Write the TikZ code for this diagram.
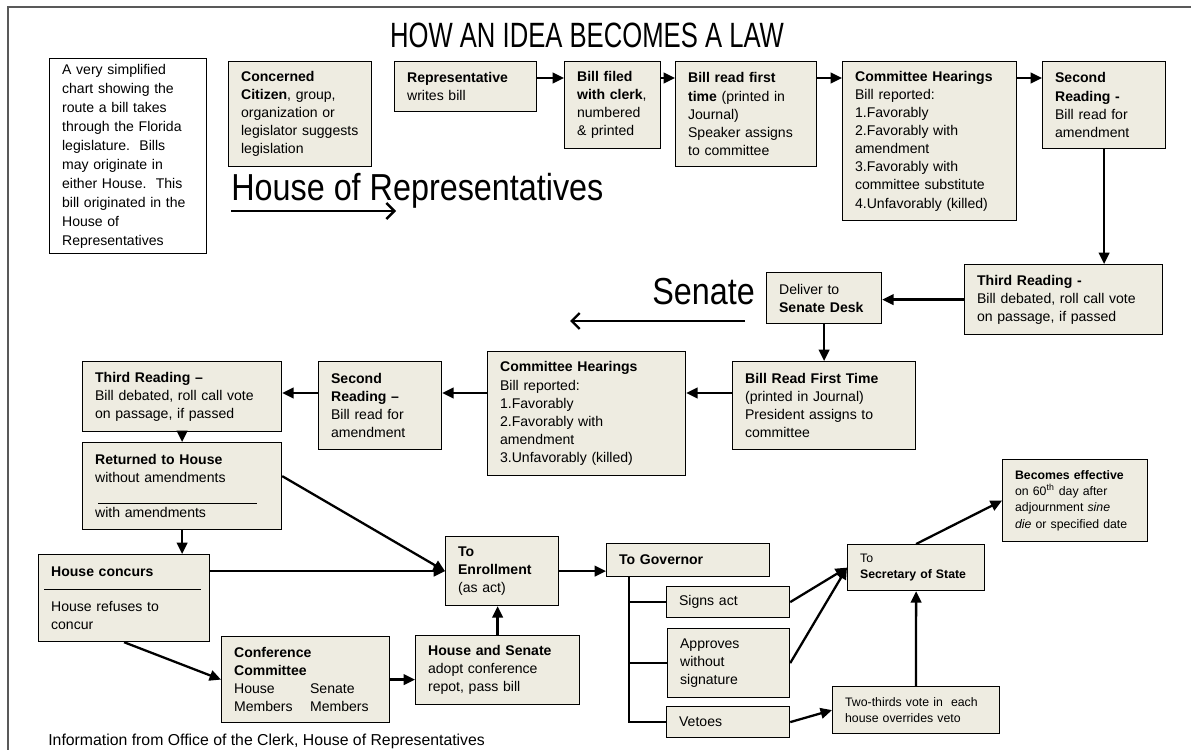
\documentclass[tikz,border=0pt]{standalone}
\usepackage{fontspec}
\usetikzlibrary{arrows.meta}
\setmainfont{Liberation Sans}
\newfontfamily\bigfont[FakeStretch=0.86]{Liberation Sans}
\newfontfamily\titlefont[FakeStretch=0.73]{Liberation Sans}
\definecolor{boxfill}{HTML}{EEECE1}
\begin{document}
\begin{tikzpicture}[x=0.02cm,y=-0.02cm,
  box/.style={draw,fill=boxfill,line width=0.7pt,anchor=north west,align=left,inner xsep=0.25cm,inner ysep=0.08cm,font=\fontsize{8}{10.3}\selectfont},
  small/.style={font=\fontsize{7}{9.2}\selectfont},
  link/.style={-{Triangle[length=6.5pt,width=6pt]},line width=1.3pt},
  way/.style={-{Straight Barb[length=4.5pt,width=9pt]},line width=1.4pt}]
\useasboundingbox(0,0)rectangle(1191,750);
\draw[black!65,line width=1pt](8,750)--(8,7)--(1191,7);
\node[anchor=base,font=\titlefont\fontsize{20}{24}\selectfont](title)at(587,48){HOW AN IDEA BECOMES A LAW};
\node[box,fill=white,text width=2.64cm,minimum height=3.9cm,font=\fontsize{8}{10.8}\selectfont](intro)at(49,58){A very simplified\\chart showing the\\route a bill takes\\through the Florida\\legislature.\ \ Bills\\may originate in\\either House.\ \ This\\bill originated in the\\House of\\Representatives};
\node[anchor=base west,inner sep=0,font=\bigfont\fontsize{21.4}{25}\selectfont](house)at(231,200){House of Representatives};
\node[anchor=base west,inner sep=0,font=\bigfont\fontsize{21.4}{25}\selectfont](senate)at(652,304){Senate};
\coordinate(hs)at(231,211);\coordinate(he)at(396,211);
\coordinate(ss)at(745,321);\coordinate(se)at(570,321);
\draw[way](hs)--(he);
\draw[way](ss)--(se);
% house
\node[box,text width=2.36cm,minimum height=2.1cm](citizen)at(228,61){\textbf{Concerned}\\\textbf{Citizen}, group,\\organization or\\legislator~suggests\\legislation};
\node[box,text width=2.34cm,minimum height=1cm](rep)at(394,61){\textbf{Representative}\\writes bill};
\node[box,text width=1.42cm,minimum height=1.74cm](filed)at(564,61){\textbf{Bill filed}\\\textbf{with~clerk},\\numbered\\\& printed};
\node[box,text width=2.32cm,minimum height=2.1cm](first)at(675,61){\textbf{Bill read first}\\\textbf{time} (printed in\\Journal)\\Speaker assigns\\to committee};
\node[box,text width=2.98cm,minimum height=3.18cm](hcomm)at(842,61){\textbf{Committee Hearings}\\Bill reported:\\1.Favorably\\2.Favorably with\\amendment\\3.Favorably with\\committee substitute\\4.Unfavorably (killed)};
\node[box,text width=1.96cm,minimum height=1.74cm](hsecond)at(1042,61){\textbf{Second}\\\textbf{Reading -}\\Bill read for\\amendment};
\node[box,text width=3.46cm,minimum height=1.4cm](hthird)at(964,264){\textbf{Third Reading -}\\Bill debated, roll call vote\\on passage, if passed};
\node[box,text width=1.8cm,minimum height=1.02cm](desk)at(766,272){Deliver to\\\textbf{Senate Desk}};
% senate
\node[box,text width=3.16cm,minimum height=1.76cm](sfirst)at(732,361){\textbf{Bill Read First Time}\\(printed in Journal)\\President assigns to\\committee};
\node[box,text width=3.46cm,minimum height=2.48cm](scomm)at(487,351){\textbf{Committee Hearings}\\Bill reported:\\1.Favorably\\2.Favorably with\\amendment\\3.Unfavorably (killed)};
\node[box,text width=1.96cm,minimum height=1.76cm](ssecond)at(318,361){\textbf{Second}\\\textbf{Reading --}\\Bill read for\\amendment};
\node[box,text width=3.48cm,minimum height=1.4cm](sthird)at(82,361){\textbf{Third Reading --}\\Bill debated, roll call vote\\on passage, if passed};
\node[box,text width=3.48cm,minimum height=1.74cm](returned)at(82,442){\textbf{Returned to House}\\without amendments\\[0.34cm]with amendments};
\draw(98,503)--(257,503);
\node[box,text width=2.92cm,minimum height=1.74cm](concur)at(38,554){\textbf{House concurs}\\[0.34cm]House refuses to\\concur};
\draw(44,589)--(201,589);
\node[box,text width=2.86cm,minimum height=1.72cm](conf)at(221,636){\textbf{Conference}\\\textbf{Committee}\\\makebox[1.52cm][l]{House}Senate\\\makebox[1.52cm][l]{Members}Members};
\node[box,text width=2.78cm,minimum height=1.38cm](adopt)at(415,635){\textbf{House and Senate}\\adopt conference\\repot, pass bill};
\node[box,text width=1.76cm,minimum height=1.38cm](enroll)at(445,536){\textbf{To}\\\textbf{Enrollment}\\(as act)};
% governor
\node[box,text width=2.76cm,minimum height=0.66cm](governor)at(606,543){\textbf{To Governor}};
\node[box,text width=1.96cm,minimum height=0.62cm](signs)at(666,586){Signs act};
\node[box,text width=1.94cm,minimum height=1.38cm](approves)at(667,628){Approves\\without\\signature};
\node[box,text width=1.96cm,minimum height=0.62cm](vetoes)at(666,706){Vetoes};
\node[box,small,text width=2.24cm,minimum height=0.92cm](secretary)at(847,544){To\\\textbf{Secretary of State}};
\node[box,small,text width=2.84cm,minimum height=0.94cm](twothirds)at(832,686){Two-thirds vote in\ \ each\\house overrides veto};
\node[box,small,text width=2.4cm,minimum height=1.64cm](effective)at(1002,459){\textbf{Becomes effective}\\on 60\textsuperscript{th} day after\\adjournment \emph{sine}\\\emph{die} or specified date};
\node[anchor=base west,inner sep=0,font=\fontsize{9}{11}\selectfont](source)at(48,745){Information from Office of the Clerk, House of Representatives};
% links
\coordinate(hrow)at(0,78);
\coordinate(srow)at(0,393);
\foreach \a/\b in {rep/filed,filed/first,first/hcomm,hcomm/hsecond}
  \draw[link](\a.east|-hrow)--(\b.west|-hrow);
\draw[link](hsecond.south)--(hsecond.south|-hthird.north);
\draw[link](hthird.west)--(hthird.west-|desk.east);
\draw[link](desk.south)--(desk.south|-sfirst.north);
\foreach \a/\b in {sfirst/scomm,scomm/ssecond,ssecond/sthird}
  \draw[link](\a.west|-srow)--(\b.east|-srow);
\draw[link](sthird.south)--(returned.north);
\draw[link](returned.south)--(returned.south|-concur.north);
\draw[link]([yshift=0.2cm]returned.east)--(enroll.west);
\draw[link](concur.east|-enroll.west)--(enroll.west);
\draw[link](concur.south)--(conf.west);
\draw[link](conf.east)--(conf.east-|adopt.west);
\draw[link](adopt.north)--(adopt.north|-enroll.south);
\draw[link](enroll.east)--(enroll.east-|governor.west);
\coordinate(gtrunk)at([xshift=0.46cm]governor.south west);
\draw[line width=0.8pt](gtrunk)|-(vetoes.west);
\draw[line width=0.8pt](gtrunk|-signs.west)--(signs.west);
\draw[line width=0.8pt](gtrunk|-approves.west)--(approves.west);
\draw[link](signs.east)--(secretary.west);
\draw[link](approves.east)--(secretary.west);
\draw[link](vetoes.east)--(twothirds.west);
\draw[link](twothirds.north)--(secretary.south);
\draw[link](secretary.north)--(effective.west);
\end{tikzpicture}
\end{document}
